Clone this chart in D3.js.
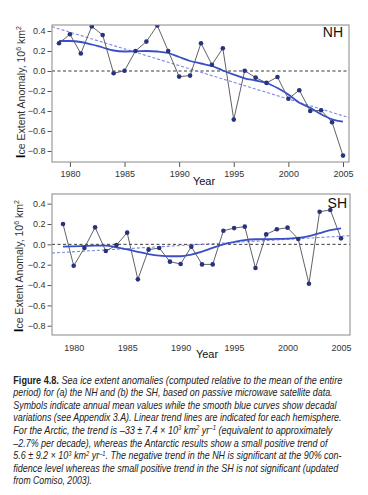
<!DOCTYPE html>
<html><head><meta charset="utf-8">
<script src="https://cdn.jsdelivr.net/npm/d3@7"></script>
<style>body{margin:0;background:#fff}svg{display:block}</style>
</head><body><svg id="c" width="368" height="495"></svg>
<script>
// ---------- DATA ----------
const years = [1979,1980,1981,1982,1983,1984,1985,1986,1987,1988,1989,1990,1991,1992,1993,1994,1995,1996,1997,1998,1999,2000,2001,2002,2003,2004,2005];
const nhAnnual = [0.278,0.367,0.175,0.446,0.36,-0.023,0.003,0.2,0.294,0.456,0.2,-0.056,-0.046,0.278,0.063,0.228,-0.486,0.003,-0.066,-0.119,-0.06,-0.278,-0.192,-0.4,-0.393,-0.512,-0.846];
const nhSmooth = [0.30,0.30,0.29,0.265,0.235,0.205,0.195,0.197,0.2,0.195,0.18,0.14,0.10,0.075,0.05,0.005,-0.036,-0.073,-0.095,-0.12,-0.17,-0.235,-0.317,-0.367,-0.433,-0.483,-0.506];
const nhTrendYears = [1978.36, 2005.55];
const nhTrendValues = [0.443, -0.466];
const shAnnual = [0.2,-0.21,-0.036,0.167,-0.066,-0.007,0.115,-0.344,-0.052,-0.036,-0.17,-0.193,-0.023,-0.197,-0.197,0.134,0.16,0.174,-0.233,0.098,0.148,0.164,0.052,-0.387,0.321,0.338,0.059];
const shSmooth = [-0.023,-0.02,-0.016,-0.012,-0.012,-0.03,-0.05,-0.075,-0.095,-0.11,-0.117,-0.117,-0.1,-0.072,-0.035,0.0,0.023,0.042,0.05,0.052,0.053,0.056,0.063,0.08,0.11,0.14,0.157];
const shTrendYears = [1977.97, 2005.84];
const shTrendValues = [-0.085, 0.085];
const xTickYears = [1980,1985,1990,1995,2000,2005];
const yTickValues = [0.4,0.2,0.0,-0.2,-0.4,-0.6,-0.8];
const captionLines = [
  "Sea ice extent anomalies (computed relative to the mean of the entire",
  "period) for (a) the NH and (b) the SH, based on passive microwave satellite data.",
  "Symbols indicate annual mean values while the smooth blue curves show decadal",
  "variations (see Appendix 3.A). Linear trend lines are indicated for each hemisphere.",
  "For the Arctic, the trend is \u201333 \u00b1 7.4 \u00d7 10^{3} km^{2} yr^{\u20131} (equivalent to approximately",
  "\u20132.7% per decade), whereas the Antarctic results show a small positive trend of",
  "5.6 \u00b1 9.2 \u00d7 10^{3} km^{2} yr^{\u20131}. The negative trend in the NH is significant at the 90% con-",
  "fidence level whereas the small positive trend in the SH is not significant (updated",
  "from Comiso, 2003)."
];
const captionEnds = [342.7,333,337,342,333,328,342,339,92];

// ---------- DRAW ----------
const svg = d3.select("#c");
const fmt = v => (v < 0 ? "\u2212" : "") + Math.abs(v).toFixed(1);

function panel(o) {
  const g = svg.append("g");
  const x = d3.scaleLinear().domain(o.xDomain).range([o.left, o.left + o.w]);
  const y = d3.scaleLinear().domain(o.yDomain).range([o.top + o.h, o.top]);
  const clipId = "clip" + o.name;
  svg.append("clipPath").attr("id", clipId).append("rect")
    .attr("x", o.left).attr("y", o.top).attr("width", o.w).attr("height", o.h);

  const ya = g.append("g").attr("transform", `translate(${o.left - 0.5},0)`)
    .call(d3.axisLeft(y).tickValues(yTickValues).tickFormat(fmt).tickSize(4).tickPadding(2));
  ya.select(".domain").remove();
  ya.selectAll("line").attr("stroke", "#555");
  ya.selectAll("text").attr("font-family", "Liberation Sans, Arial, sans-serif").attr("font-size", 9).attr("fill", "#333");

  const xa = g.append("g").attr("transform", `translate(0,${o.top + o.h})`)
    .call(d3.axisBottom(x).tickValues(xTickYears).tickFormat(d3.format("d")).tickSize(o.xTickSize).tickPadding(o.xPad));
  xa.select(".domain").remove();
  xa.selectAll("line").attr("stroke", "#555");
  xa.selectAll("text").attr("font-family", "Liberation Sans, Arial, sans-serif").attr("font-size", 9).attr("fill", "#333");

  const pg = g.append("g").attr("clip-path", `url(#${clipId})`);
  pg.append("line").attr("x1", o.left).attr("x2", o.left + o.w)
    .attr("y1", y(0)).attr("y2", y(0))
    .attr("stroke", "#222").attr("stroke-width", 0.9).attr("stroke-dasharray", "3,2.5");
  const tr = o.trendYears.map((yr, i) => [yr, o.trendValues[i]]);
  pg.append("path").attr("d", d3.line().x(d => x(d[0])).y(d => y(d[1]))(tr))
    .attr("fill", "none").attr("stroke", "#7b86e6").attr("stroke-width", 1.1).attr("stroke-dasharray", "3,2");
  const pts = years.map((yr, i) => [yr, o.annual[i]]);
  pg.append("path").attr("d", d3.line().x(d => x(d[0])).y(d => y(d[1]))(pts))
    .attr("fill", "none").attr("stroke", "#505050").attr("stroke-width", 0.9);
  const sm = years.map((yr, i) => [yr, o.smooth[i]]);
  pg.append("path").attr("d", d3.line().curve(d3.curveMonotoneX).x(d => x(d[0])).y(d => y(d[1]))(sm))
    .attr("fill", "none").attr("stroke", "#3b4fc4").attr("stroke-width", 1.8);
  pg.selectAll("circle").data(pts).join("circle")
    .attr("cx", d => x(d[0])).attr("cy", d => y(d[1])).attr("r", 2.3).attr("fill", "#26337f");

  g.append("rect").attr("x", o.left).attr("y", o.top).attr("width", o.w).attr("height", o.h)
    .attr("fill", "none").attr("stroke", "#888").attr("stroke-width", 1);

  g.append("text").attr("x", o.labX).attr("y", o.labY).attr("text-anchor", "end")
    .attr("font-family", "Liberation Sans, Arial, sans-serif").attr("font-size", 14).attr("fill", "#111").text(o.name);

  g.append("text").attr("x", o.yearX).attr("y", o.yearY).attr("text-anchor", "middle")
    .attr("font-family", "Liberation Sans, Arial, sans-serif").attr("font-size", 11).attr("fill", "#111").text("Year");

  const yl = g.append("text").attr("transform", `translate(${o.ylX},${o.ylY}) rotate(-90)`)
    .attr("text-anchor", "middle").attr("font-family", "Liberation Sans, Arial, sans-serif")
    .attr("font-size", 10.5).attr("fill", "#333");
  yl.append("tspan").attr("font-weight", "bold").attr("fill", "#000").attr("font-size", 12).text("I");
  yl.append("tspan").text("ce Extent Anomaly, 10");
  yl.append("tspan").attr("dy", -4).attr("font-size", 7).text("6");
  yl.append("tspan").attr("dy", 4).text(" km");
  yl.append("tspan").attr("dy", -4).attr("font-size", 7).text("2");
}

panel({name: "NH", left: 52, top: 25, w: 297, h: 137,
  xDomain: [1978.36, 2005.55], yDomain: [-0.91, 0.46],
  annual: nhAnnual, smooth: nhSmooth, trendYears: nhTrendYears, trendValues: nhTrendValues,
  xTickSize: 5, xPad: 4, labX: 343, labY: 37, yearX: 204, yearY: 185, ylX: 25, ylY: 92});
panel({name: "SH", left: 52, top: 194, w: 298, h: 141,
  xDomain: [1977.97, 2005.84], yDomain: [-0.891, 0.495],
  annual: shAnnual, smooth: shSmooth, trendYears: shTrendYears, trendValues: shTrendValues,
  xTickSize: 0, xPad: 10, labX: 347, labY: 208, yearX: 207, yearY: 358, ylX: 23, ylY: 266});

// caption: each line drawn at natural width, then scaled horizontally to the reference width
const cap = svg.append("g").attr("font-family", "Liberation Sans Narrow, Arial Narrow, Liberation Sans, sans-serif")
  .attr("font-size", 10).attr("fill", "#222");
captionLines.forEach((line, i) => {
  const t = cap.append("text").attr("x", 0).attr("y", 0);
  if (i === 0) {
    t.append("tspan").attr("font-weight", "bold").attr("font-style", "normal")
      .attr("font-family", "Liberation Sans, Arial, sans-serif").text("Figure 4.8. ");
  }
  const parts = line.split(/\^\{([^}]*)\}/);
  let sup = false;
  parts.forEach((p, k) => {
    const isSup = k % 2 === 1;
    if (p === "") { return; }
    const ts = t.append("tspan").attr("font-style", "italic").text(p);
    if (isSup) { ts.attr("dy", -3.5).attr("font-size", 6.5); sup = true; }
    else if (sup) { ts.attr("dy", 3.5); sup = false; }
  });
  const natural = t.node().getComputedTextLength();
  const sx = (captionEnds[i] - 13.3) / natural;
  t.attr("transform", `translate(13.3,${383.5 + i * 12.6}) scale(${sx},1)`);
});
</script></body></html>
